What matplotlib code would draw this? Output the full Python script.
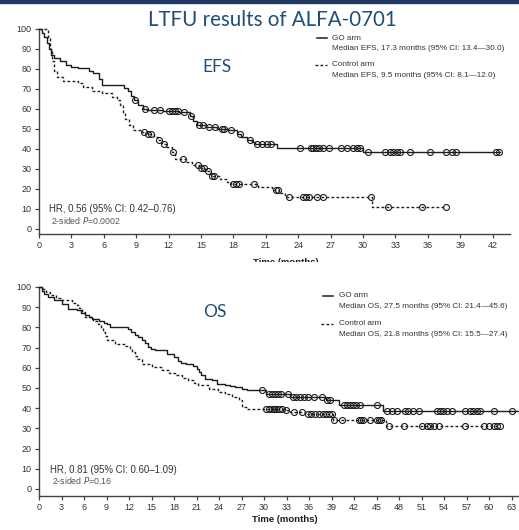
import numpy as np
import matplotlib
matplotlib.use("Agg")
import matplotlib.pyplot as plt
from matplotlib.lines import Line2D
from matplotlib.transforms import Bbox

# ---------------- data ----------------
# EFS, GO arm: step times (months) and survival (%)
efs_go_t = [0, 0.3, 0.5, 0.7, 0.9, 1.1, 1.4, 1.9, 2.5, 3.0, 3.6, 4.6, 5.0, 5.6, 5.8,
            7.9, 8.2, 8.5, 8.8, 9.2, 9.6, 10.0, 11.5, 13.0, 14.0, 14.3, 14.6, 15.5,
            16.5, 17.5, 18.3, 18.7, 19.3, 19.7, 20.0, 22.0, 30.0]
efs_go_s = [100, 98, 96, 93, 90, 87, 85.5, 84, 82, 81, 80.3, 79, 78, 75, 72,
            70.5, 69, 66.5, 64.5, 62, 60, 59.3, 58.8, 58.3, 56.5, 54, 52, 51,
            50.2, 49.3, 47.5, 46, 44.5, 43.5, 42.3, 40.3, 38.7]
efs_go_end = 42.7
efs_go_cens = [8.9, 9.8, 10.6, 11.2, 12.0, 12.3, 12.6, 12.9, 13.4, 14.1, 14.8, 15.2,
               15.7, 16.3, 16.9, 17.1, 17.8, 18.6, 19.5, 20.2, 20.6, 21.1, 21.5,
               24.2, 25.2, 25.4, 25.6, 25.9, 26.3, 26.8, 28.0, 28.5, 29.1, 29.4, 29.7,
               30.5, 32.0, 32.5, 32.8, 33.1, 33.4, 34.3, 36.2, 37.7, 38.2, 38.6,
               42.3, 42.6]

# EFS, control arm
efs_ctl_t = [0, 0.8, 1.0, 1.2, 1.4, 1.7, 2.2, 3.6, 4.1, 4.9, 5.8, 6.8, 7.2, 7.5, 7.8,
             8.0, 8.3, 8.7, 9.5, 10.0, 10.6, 11.0, 11.4, 11.8, 12.3, 12.6, 13.6,
             14.2, 14.8, 15.4, 15.9, 16.8, 17.4, 17.8, 20.3, 21.6, 22.2, 22.8, 30.8]
efs_ctl_s = [100, 96, 90, 84, 79, 76, 74, 73, 71, 69, 68, 66, 64.5, 62, 58,
             55, 52, 49.5, 48.7, 47.5, 46, 44.5, 42.5, 41, 38.5, 35, 33.5,
             32, 30.5, 29, 26.5, 25, 23.5, 22.5, 21, 19.5, 17.8, 16.2, 11.2]
efs_ctl_end = 37.7
efs_ctl_cens = [9.7, 10.1, 10.4, 11.1, 11.6, 12.4, 13.3, 14.7, 15.0, 15.3, 15.6,
                16.0, 16.2, 18.0, 18.2, 18.5, 19.9, 21.9, 22.1, 23.1, 24.4, 24.7,
                25.0, 25.7, 26.3, 30.7, 32.3, 35.5, 37.7]

# OS, GO arm
os_go_t = [0, 0.4, 0.6, 1.2, 2.0, 3.0, 3.9, 5.0, 5.6, 6.1, 6.6, 7.0, 8.0, 8.6, 9.0,
           9.5, 11.8, 12.3, 12.8, 13.2, 13.7, 14.1, 14.5, 14.9, 15.5, 17.0, 18.0,
           18.5, 18.9, 19.6, 20.5, 21.0, 21.3, 21.6, 22.1, 23.0, 23.7, 24.8, 25.5,
           26.1, 27.0, 27.7, 30.2, 33.5, 38.2, 40.0, 45.8]
os_go_s = [100, 98, 96.5, 95, 93.5, 91.7, 89.3, 88.5, 87, 86, 85, 84, 83.2, 82.3, 81.5,
           80.2, 79, 77.7, 76, 75, 73.6, 72.4, 70.5, 69.5, 68.6, 67, 65.3,
           63.5, 62.5, 62, 61, 59.6, 58, 56.3, 54.6, 53.8, 52.1, 51.6, 51,
           50.5, 49.7, 48.9, 47.2, 45.3, 44.2, 41.5, 38.5]
os_go_end = 64
os_go_cens = [29.7, 30.6, 31.0, 31.4, 31.8, 32.2, 33.2, 33.8, 34.3, 34.8, 35.3, 35.8,
              36.6, 37.7, 38.4, 38.8, 40.6, 41.0, 41.4, 41.8, 42.2, 42.8, 45.0,
              46.4, 47.0, 47.7, 48.8, 49.2, 49.9, 50.6, 53.0, 53.5, 53.9, 54.4,
              55.0, 56.8, 57.5, 57.9, 58.4, 58.8, 60.6, 63.0]

# OS, control arm
os_ctl_t = [0, 0.5, 0.9, 1.5, 2.2, 3.0, 4.4, 5.0, 5.3, 5.7, 6.1, 7.2, 7.9, 8.2, 8.5,
            8.8, 9.0, 10.1, 11.5, 12.1, 12.4, 12.8, 13.0, 13.7, 15.0, 16.4, 17.3,
            18.1, 19.0, 19.9, 20.6, 21.2, 22.6, 23.9, 24.8, 25.7, 26.6, 27.0, 27.7,
            32.6, 33.5, 35.5, 39.2, 46.2]
os_ctl_s = [100, 99, 97.5, 96, 94.5, 93.4, 92.2, 91, 89.5, 87.5, 85.1, 83, 81.8, 79.5, 77.7,
            75.5, 73.6, 71.9, 71, 69.5, 68, 66, 64.5, 62, 60.4, 58.8, 57.5,
            56.3, 55, 53.8, 52.5, 51.3, 49.7, 48, 46.8, 45.5, 43.9, 40.6, 39.8,
            38.9, 38.1, 37.3, 34, 31.2]
os_ctl_end = 61.5
os_ctl_cens = [30.2, 30.6, 31.0, 31.3, 31.6, 32.0, 32.4, 32.9, 34.0, 35.1, 35.8, 36.3,
               36.8, 37.3, 37.8, 38.3, 38.7, 39.0, 39.3, 40.4, 42.6, 42.9, 43.2, 44.1,
               45.0, 45.3, 45.6, 46.6, 48.6, 51.0, 51.7, 52.1, 52.6, 53.3, 56.8,
               59.3, 60.0, 60.6, 61.1, 61.5]

y_ticks = list(range(0, 101, 10))
efs_x_ticks = list(range(0, 43, 3))
os_x_ticks = list(range(0, 64, 3))

title = "LTFU results of ALFA-0701"
efs_legend = ["GO arm", "Median EFS, 17.3 months (95% CI: 13.4\u201430.0)",
              "Control arm", "Median EFS, 9.5 months (95% CI: 8.1\u201412.0)"]
os_legend = ["GO arm", "Median OS, 27.5 months (95% CI: 21.4\u201445.6)",
             "Control arm", "Median OS, 21.8 months (95% CI: 15.5\u201427.4)"]
efs_hr = ["HR, 0.56 (95% CI: 0.42\u20130.76)", "0.0002"]
os_hr = ["HR, 0.81 (95% CI: 0.60\u20131.09)", "0.16"]

# ---------------- style ----------------
W, H = 519, 530
INK = "#1c1c1c"
TXT = "#333333"
BLUE = "#1f4e79"
SANS = ["Liberation Sans", "DejaVu Sans"]
plt.rcParams["font.family"] = SANS

fig = plt.figure(figsize=(W / 100, H / 100), dpi=100)


def fx(x):
    return x / W


def fy(y):
    return 1 - y / H


def level_at(t_steps, s_steps, t):
    idx = np.searchsorted(np.asarray(t_steps), np.asarray(t), side="right") - 1
    return np.asarray(s_steps)[idx]


def km_curve(ax, t, s, t_end, cens, dashed):
    tt = list(t) + [t_end]
    ss = list(s) + [s[-1]]
    kw = dict(color=INK, lw=1.0, drawstyle="steps-post", clip_on=False, zorder=3)
    if dashed:
        ax.plot(tt, ss, ls=(0, (2.0, 1.6)), **kw)
    else:
        ax.plot(tt, ss, ls="-", **kw)
    ax.plot(cens, level_at(t, s, cens), ls="none", marker="o", ms=4.3,
            mfc="none", mec=INK, mew=0.8, clip_on=False, zorder=4)


def style_axes(ax, xmax, ymin, xticks):
    ax.set_xlim(0, xmax)
    ax.set_ylim(ymin, 100)
    for side in ("top", "right"):
        ax.spines[side].set_visible(False)
    for side in ("left", "bottom"):
        ax.spines[side].set_linewidth(1.0)
        ax.spines[side].set_color("#444444")
    ax.set_xticks(xticks)
    ax.set_yticks(y_ticks)
    ax.tick_params(axis="both", direction="out", length=3.2, width=0.9,
                   color="#444444", labelsize=6.5, labelcolor=TXT, pad=2.2)
    ax.patch.set_alpha(0)


# top banner
fig.patches.append(plt.Rectangle((0, fy(3)), 1, 3 / H, transform=fig.transFigure,
                                 color="#1f3864", zorder=0))
fig.text(fx(272), fy(20), title, ha="center", va="center", color=BLUE,
         fontsize=14.8, family=["Lato", "DejaVu Sans"])

# ---------------- EFS panel ----------------
ax1 = fig.add_axes([fx(39), fy(234), fx(510) - fx(39), fy(29) - fy(234)])
style_axes(ax1, 43.6, -2.5, efs_x_ticks)
km_curve(ax1, efs_go_t, efs_go_s, efs_go_end, efs_go_cens, dashed=False)
km_curve(ax1, efs_ctl_t, efs_ctl_s, efs_ctl_end, efs_ctl_cens, dashed=True)

fig.text(fx(217), fy(67), "EFS", ha="center", va="center", color=BLUE,
         fontsize=12.5, family=["Lato", "DejaVu Sans"])

# ---------------- OS panel ----------------
ax2 = fig.add_axes([fx(39), fy(496), fx(519) - fx(39), fy(287) - fy(496)])
style_axes(ax2, 64, -3.5, os_x_ticks)
km_curve(ax2, os_go_t, os_go_s, os_go_end, os_go_cens, dashed=False)
km_curve(ax2, os_ctl_t, os_ctl_s, os_ctl_end, os_ctl_cens, dashed=True)

fig.text(fx(215), fy(312), "OS", ha="center", va="center", color=BLUE,
         fontsize=12.5, family=["Lato", "DejaVu Sans"])


def legend_block(x_line, x_text, y_rows, labels):
    ya, yb, yc, yd = y_rows
    fig.lines.append(Line2D([fx(x_line), fx(x_line + 10)], [fy(ya), fy(ya)],
                            transform=fig.transFigure, color=INK, lw=1.1))
    fig.lines.append(Line2D([fx(x_line - 2), fx(x_line + 10)], [fy(yc), fy(yc)],
                            transform=fig.transFigure, color=INK, lw=1.0,
                            ls=(0, (2.0, 1.6))))
    for y, s in zip(y_rows, labels):
        fig.text(fx(x_text), fy(y), s, ha="left", va="center", color=TXT,
                 fontsize=5.9)


legend_block(317, 332, (38, 48, 65, 75.5), efs_legend)
legend_block(323, 339, (295.5, 306, 323.5, 334), os_legend)


def hr_block(x, y1, y2, lines):
    fig.text(fx(x), fy(y1), lines[0], ha="left", va="center", color=TXT, fontsize=6.9)
    fig.text(fx(x + 2), fy(y2), "2-sided $\\mathit{P}$=" + lines[1], ha="left",
             va="center", color="#555555", fontsize=6.3)


hr_block(49, 209, 221, efs_hr)
hr_block(50, 470, 481, os_hr)

# axis titles
t1 = fig.text(fx(286), fy(265), "Time (months)", ha="center", va="baseline",
              color=INK, fontsize=6.8, fontweight="bold")
t1.set_clip_box(Bbox([[0, H - 262], [W, H]]))
t1.set_clip_on(True)
fig.text(fx(285), fy(522), "Time (months)", ha="center", va="baseline",
         color=INK, fontsize=6.8, fontweight="bold")

fig.savefig("out.png", dpi=100)
